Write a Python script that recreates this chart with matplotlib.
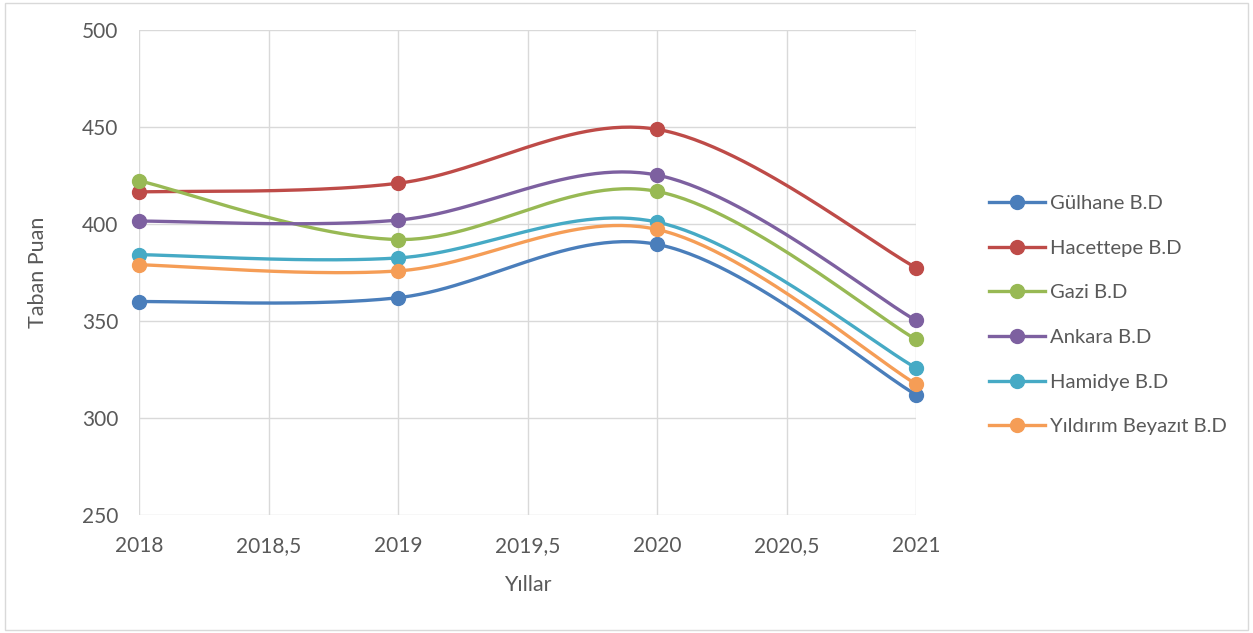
import numpy as np
import matplotlib
matplotlib.use("Agg")
import matplotlib.pyplot as plt
from matplotlib.ticker import FuncFormatter
from matplotlib.lines import Line2D
from matplotlib.patches import Rectangle

years = [2018, 2019, 2020, 2021]
series_names = ["Gülhane B.D", "Hacettepe B.D", "Gazi B.D", "Ankara B.D", "Hamidye B.D", "Yıldırım Beyazıt B.D"]
gulhane = [360, 362, 389.5, 312]
hacettepe = [416.5, 421, 448.8, 377.5]
gazi = [422.3, 392, 416.8, 340.5]
ankara = [401.5, 402, 425.2, 350.3]
hamidye = [384.2, 382.5, 401, 325.8]
yildirim = [379, 375.8, 397.2, 317.5]
colors = ["#4a7ebb", "#be4b48", "#98b954", "#7d60a0", "#46aac5", "#f59d56"]
all_series = [gulhane, hacettepe, gazi, ankara, hamidye, yildirim]


def excel_smooth(x, y, n=60):
    x = np.asarray(x, float)
    y = np.asarray(y, float)
    P = np.column_stack([x, y])
    out = [P[0]]
    t = np.linspace(0, 1, n)[1:]
    for i in range(len(P) - 1):
        p0 = P[i - 1] if i > 0 else P[i]
        p1 = P[i]
        p2 = P[i + 1]
        p3 = P[i + 2] if i + 2 < len(P) else P[i + 1]
        c1 = p1 + (p2 - p0) / 6.0
        c2 = p2 - (p3 - p1) / 6.0
        for tt in t:
            b = ((1 - tt) ** 3) * p1 + 3 * ((1 - tt) ** 2) * tt * c1 + 3 * (1 - tt) * tt ** 2 * c2 + tt ** 3 * p2
            out.append(b)
    out = np.array(out)
    return out[:, 0], out[:, 1]


plt.rcParams['font.family'] = ['Lato', 'DejaVu Sans']
fig = plt.figure(figsize=(12.53, 6.33), dpi=100)
fig.patches.append(Rectangle((0.004, 0.005), 0.992, 0.99, transform=fig.transFigure,
                             fill=False, edgecolor="#d9d9d9", linewidth=1.0))
ax = fig.add_axes([139 / 1253, 1 - 515 / 633, (916 - 139) / 1253, (515 - 30) / 633])

for name, vals, c in zip(series_names, all_series, colors):
    sx, sy = excel_smooth(years, vals)
    ax.plot(sx, sy, color=c, linewidth=2.4, solid_capstyle="round", zorder=3, clip_on=False)
    ax.plot(years, vals, linestyle="none", marker="o", markersize=10, color=c, zorder=4, clip_on=False)

ax.set_xlim(2018, 2021)
ax.set_ylim(250, 500)
ax.set_xticks(np.arange(2018, 2021.01, 0.5))
ax.set_yticks(np.arange(250, 501, 50))
ax.xaxis.set_major_formatter(FuncFormatter(lambda v, p: (f"{v:.1f}".replace(".", ",") if v % 1 else f"{int(v)}")))
ax.grid(True, color="#d9d9d9", linewidth=1.0, zorder=0)
ax.set_axisbelow(True)
for s in ax.spines.values():
    s.set_visible(False)
ax.tick_params(axis="y", length=0, labelsize=15, colors="#595959", pad=15)
ax.tick_params(axis="x", length=0, labelsize=15, colors="#595959", pad=15)
ax.set_xlabel("Yıllar", fontsize=15.5, color="#595959", labelpad=14)
ax.set_ylabel("Taban Puan", fontsize=15.5, color="#595959", labelpad=24)

handles = [Line2D([0], [0], color=c, linewidth=2.4, marker="o", markersize=10) for c in colors]
leg = fig.legend(handles, series_names, loc="upper left", bbox_to_anchor=(979 / 1253, 1 - 185 / 633),
                 frameon=False, fontsize=14.6, labelspacing=1.35, handlelength=2.75, handletextpad=0.25,
                 borderpad=0)
for t in leg.get_texts():
    t.set_color("#595959")

fig.savefig("out.png", dpi=100)
